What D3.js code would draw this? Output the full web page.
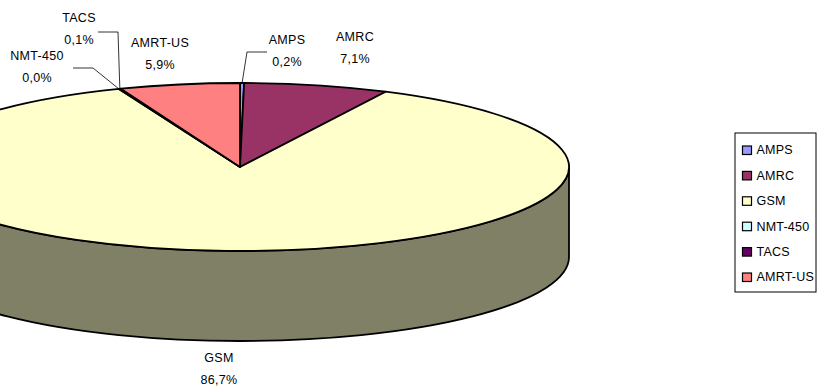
<!DOCTYPE html>
<html>
<head>
<meta charset="utf-8">
<script src="https://cdn.jsdelivr.net/npm/d3@7"></script>
<style>
  html, body { margin: 0; padding: 0; background: #fff; }
  svg { display: block; }
  text { font-family: "Liberation Sans", Arial, sans-serif; fill: #000; }
</style>
</head>
<body>
<svg id="chart" width="822" height="389"></svg>
<script>
// Market share by mobile standard (percent)
const categories = ["AMPS", "AMRC", "GSM", "NMT-450", "TACS", "AMRT-US"];
const shares = [0.2, 7.1, 86.7, 0.0, 0.1, 5.9];
const valueLabels = ["0,2%", "7,1%", "86,7%", "0,0%", "0,1%", "5,9%"];
const colors = ["#9999FF", "#993366", "#FFFFCC", "#CCFFFF", "#660066", "#FF8080"];

// Label placement (name line centre) and leader line elbows
const labelPos = {
  "AMPS":    { x: 287, y: 40, elbow: [[267, 52], [247, 52]] },
  "AMRC":    { x: 355, y: 37 },
  "GSM":     { x: 219, y: 358 },
  "NMT-450": { x: 37,  y: 56, elbow: [[73, 68], [93, 68]] },
  "TACS":    { x: 79,  y: 18, elbow: [[98, 32], [118, 32]] },
  "AMRT-US": { x: 160, y: 43 }
};

const svg = d3.select("#chart");
const cx = 240, cy = 167, rx = 329, ry = 84, depth = 90;

const pie = d3.pie().sort(null).value(d => d.v).startAngle(0).endAngle(2 * Math.PI);
const arcs = pie(categories.map((c, i) => ({ name: c, v: shares[i], color: colors[i], label: valueLabels[i] })));

// point on the top ellipse for an angle measured clockwise from 12 o'clock
const pt = (a, dy = 0) => [cx + rx * Math.sin(a), cy - ry * Math.cos(a) + dy];

// Side walls: visible along the front half (angles between PI/2 and 3PI/2)
const sides = svg.append("g");
arcs.forEach(d => {
  const a0 = Math.max(d.startAngle, Math.PI / 2);
  const a1 = Math.min(d.endAngle, 3 * Math.PI / 2);
  if (a1 <= a0) return;
  const p0 = pt(a0), p1 = pt(a1), q1 = pt(a1, depth), q0 = pt(a0, depth);
  const large = (a1 - a0) > Math.PI ? 1 : 0;
  const path = `M${p0}A${rx},${ry} 0 ${large} 1 ${p1}L${q1}A${rx},${ry} 0 ${large} 0 ${q0}Z`;
  const c = d3.rgb(d.data.color);
  sides.append("path")
    .attr("d", path)
    .attr("fill", d3.rgb(c.r * 0.5, c.g * 0.5, c.b * 0.5))
    .attr("stroke", "#000")
    .attr("stroke-width", 1.8)
    .attr("stroke-linejoin", "round");
});

// Top faces
const tops = svg.append("g");
arcs.forEach(d => {
  if (d.endAngle - d.startAngle <= 0) return;
  const p0 = pt(d.startAngle), p1 = pt(d.endAngle);
  const large = (d.endAngle - d.startAngle) > Math.PI ? 1 : 0;
  const path = `M${cx},${cy}L${p0}A${rx},${ry} 0 ${large} 1 ${p1}Z`;
  tops.append("path")
    .attr("d", path)
    .attr("fill", d.data.color)
    .attr("stroke", "#000")
    .attr("stroke-width", 1.8)
    .attr("stroke-linejoin", "round");
});

// Data labels with leader lines
const labels = svg.append("g").attr("font-size", 12.5).attr("text-anchor", "middle").attr("letter-spacing", 0.3);
arcs.forEach(d => {
  const lp = labelPos[d.data.name];
  if (lp.elbow) {
    const mid = (d.startAngle + d.endAngle) / 2;
    const pts = lp.elbow.concat([pt(mid)]);
    labels.append("path")
      .attr("d", d3.line()(pts))
      .attr("fill", "none")
      .attr("stroke", "#000")
      .attr("stroke-width", 0.8);
  }
  labels.append("text").attr("x", lp.x).attr("y", lp.y).attr("dy", "0.35em").text(d.data.name);
  labels.append("text").attr("x", lp.x).attr("y", lp.y + 22).attr("dy", "0.35em").text(d.data.label);
});

// Legend
const lg = svg.append("g").attr("transform", "translate(735,133)");
lg.append("rect").attr("width", 81).attr("height", 159)
  .attr("fill", "#fff").attr("stroke", "#000").attr("stroke-width", 1);
const ly = d3.scalePoint().domain(categories).range([17, 144]);
categories.forEach((c, i) => {
  lg.append("rect")
    .attr("x", 7.5).attr("y", ly(c) - 4).attr("width", 9).attr("height", 8.5)
    .attr("fill", colors[i]).attr("stroke", "#000").attr("stroke-width", 1.2);
  lg.append("text")
    .attr("x", 21.5).attr("y", ly(c)).attr("dy", "0.35em")
    .attr("font-size", 12.5).attr("letter-spacing", 0.2)
    .text(c);
});
</script>
</body>
</html>
